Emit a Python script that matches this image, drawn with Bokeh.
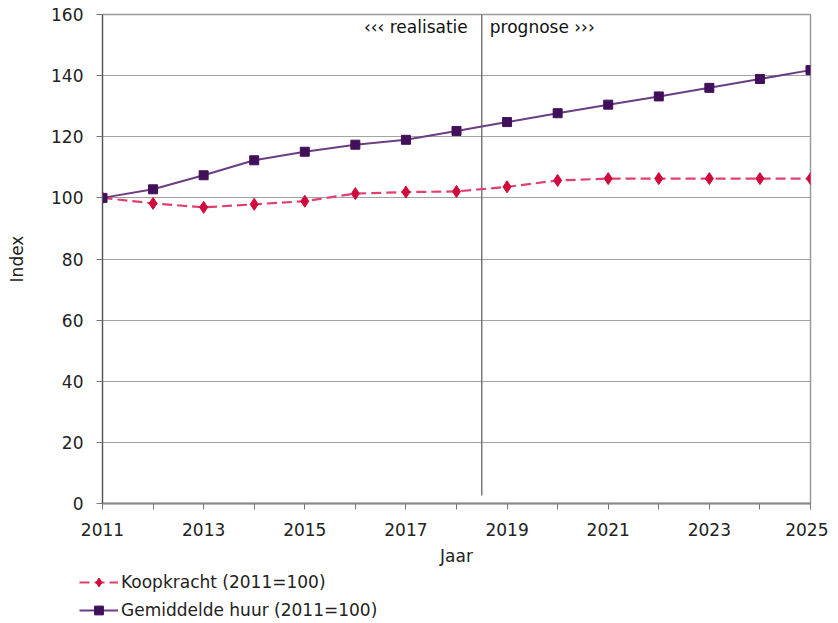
from bokeh.plotting import figure
from bokeh.models import FixedTicker, Legend, LegendItem, Range1d
from bokeh.core.properties import value
from bokeh.embed import file_html
from bokeh.resources import INLINE

years = list(range(2011, 2026))
koopkracht = [100.0, 98.2, 96.9, 97.9, 98.9, 101.4, 101.9, 102.1, 103.6, 105.7, 106.3, 106.3, 106.3, 106.3, 106.3]
huur = [100.0, 102.8, 107.4, 112.3, 115.1, 117.4, 119.0, 121.9, 124.8, 127.7, 130.5, 133.2, 136.0, 138.9, 141.8]
y_ticks = [0, 20, 40, 60, 80, 100, 120, 140, 160]
x_major = [2011, 2013, 2015, 2017, 2019, 2021, 2023, 2025]
x_minor = [2012, 2014, 2016, 2018, 2020, 2022, 2024]
split_year = 2018.5
split_bottom = 2.6
label_y = 155.8
label_koop = "Koopkracht (2011=100)"
label_huur = "Gemiddelde huur (2011=100)"

FONT = "DejaVu Sans"
FS = "17px"
KOOP_LINE = dict(line_color="#e0406e", line_width=2.2, line_dash="10 5")
KOOP_MARK = dict(marker="diamond", size=12, fill_color="#d10a3c", line_color="#d10a3c")
HUUR_LINE = dict(line_color="#6b3d82", line_width=2)
HUUR_MARK = dict(marker="square", size=9, fill_color="#40105a", line_color="#40105a")

p = figure(width=828, height=569, output_backend="svg", toolbar_location=None,
           x_range=Range1d(2011, 2025), y_range=Range1d(0, 160),
           min_border_left=102, min_border_right=18, min_border_top=14, min_border_bottom=66)
p.background_fill_color = "white"
p.border_fill_color = "white"
p.outline_line_color = "#9a9a9a"
p.outline_line_width = 1.5

# axes
p.xaxis.ticker = FixedTicker(ticks=x_major, minor_ticks=x_minor)
p.yaxis.ticker = FixedTicker(ticks=y_ticks)
for ax in (p.xaxis[0], p.yaxis[0]):
    ax.major_label_text_font = FONT
    ax.major_label_text_font_size = FS
    ax.major_label_text_color = "#222222"
    ax.axis_label_text_font = FONT
    ax.axis_label_text_font_size = FS
    ax.axis_label_text_font_style = "normal"
    ax.axis_label_text_color = "#222222"
    ax.major_tick_in = 0
    ax.major_tick_out = 6
    ax.minor_tick_in = 0
    ax.minor_tick_out = 6
    ax.major_tick_line_color = "#777777"
    ax.minor_tick_line_color = "#777777"
p.xaxis.axis_label = "Jaar"
p.yaxis.axis_label = "Index"
p.xaxis.axis_line_color = "#8a8a8a"
p.xaxis.axis_line_width = 2
p.yaxis.axis_line_color = "#555555"
p.yaxis.axis_line_width = 1.2
p.xaxis.major_label_standoff = 13
p.xaxis.axis_label_standoff = 7
p.yaxis.major_label_standoff = 13
p.yaxis.axis_label_standoff = 21
p.yaxis.minor_tick_line_color = None

p.xgrid.grid_line_color = None
p.ygrid.ticker = FixedTicker(ticks=y_ticks[1:-1])
p.ygrid.grid_line_color = "#444444"
p.ygrid.grid_line_dash = "1 1"
p.ygrid.grid_line_width = 1

# split line and labels
p.segment(x0=[split_year], y0=[split_bottom], x1=[split_year], y1=[160],
          line_color="#666666", line_width=1.3)
p.text(x=[split_year], y=[label_y], text=["\u2039\u2039\u2039 realisatie"],
       text_font=value(FONT), text_font_size=FS, text_color="#111111",
       text_align="right", text_baseline="middle", x_offset=-14)
p.text(x=[split_year], y=[label_y], text=["prognose \u203a\u203a\u203a"],
       text_font=value(FONT), text_font_size=FS, text_color="#111111",
       text_align="left", text_baseline="middle", x_offset=8)

# series
p.line(years, koopkracht, **KOOP_LINE)
p.scatter(years, koopkracht, **KOOP_MARK)
p.line(years, huur, **HUUR_LINE)
p.scatter(years, huur, **HUUR_MARK)

# legend strip below the chart (its ranges keep the proxy series out of view)
lg = figure(width=828, height=52, output_backend="svg", toolbar_location=None,
            x_axis_type=None, y_axis_type=None,
            x_range=Range1d(0, 1), y_range=Range1d(0, 1),
            min_border_left=0, min_border_right=0, min_border_top=0, min_border_bottom=0)
lg.grid.grid_line_color = None
lg.outline_line_color = None
kl = lg.line(years, koopkracht, **KOOP_LINE)
km = lg.scatter(years, koopkracht, **KOOP_MARK)
hl = lg.line(years, huur, **HUUR_LINE)
hm = lg.scatter(years, huur, **HUUR_MARK)
legend = Legend(items=[LegendItem(label=label_koop, renderers=[kl, km]),
                       LegendItem(label=label_huur, renderers=[hl, hm])],
                location=(79, 0), orientation="vertical")
legend.label_text_font = FONT
legend.label_text_font_size = FS
legend.label_text_color = "#222222"
legend.padding = 0
legend.spacing = 6
legend.margin = 0
legend.label_height = 22
legend.glyph_height = 22
legend.glyph_width = 39
legend.label_standoff = 3
legend.border_line_color = None
legend.background_fill_alpha = 0
lg.add_layout(legend, "center")

open("out.html", "w").write(file_html([p, lg], INLINE))
